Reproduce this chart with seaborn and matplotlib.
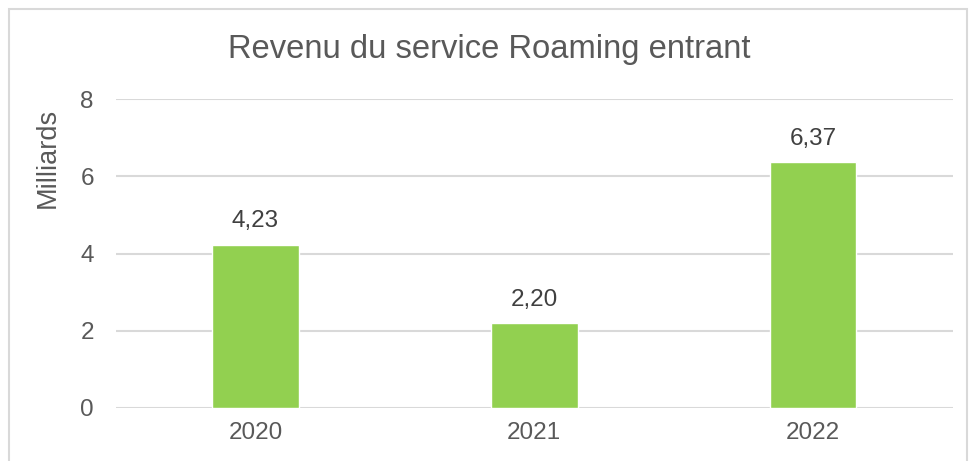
import matplotlib
matplotlib.use("Agg")
import matplotlib.pyplot as plt
import seaborn as sns
import pandas as pd
from matplotlib.patches import Rectangle

years = ["2020", "2021", "2022"]
values = [4.23, 2.20, 6.37]
labels = ["4,23", "2,20", "6,37"]
yticks = [0, 2, 4, 6, 8]

sns.set_theme(style="white")
plt.rcParams['font.family'] = ['Liberation Sans', 'DejaVu Sans']

grey = "#595959"
grid = "#D9D9D9"

fig = plt.figure(figsize=(9.71, 4.61), dpi=100)
ax = fig.add_axes([0.1195, 0.115, 0.8615, 0.67])

df = pd.DataFrame({"year": years, "value": values})
sns.barplot(data=df, x="year", y="value", color="#92D050", saturation=1,
            width=0.31, ax=ax, zorder=3)

ax.set_ylim(0, 8)
ax.set_yticks(yticks)
ax.set_yticklabels([str(t) for t in yticks])
ax.grid(axis="y", color=grid, linewidth=1.5, zorder=0)
ax.set_axisbelow(True)
for s in ax.spines.values():
    s.set_visible(False)
ax.tick_params(axis="both", length=0, labelsize=17.5, colors=grey)
ax.tick_params(axis="y", pad=16)
ax.tick_params(axis="x", pad=10)
ax.set_xlabel("")
ax.set_ylabel("Milliards", fontsize=19.5, color=grey)
ax.yaxis.set_label_coords(-0.0655, 0.81)
ax.set_xlim(-0.5, 2.5)

for i, (v, l) in enumerate(zip(values, labels)):
    ax.annotate(l, (i, v), xytext=(0, 9), textcoords="offset points",
                ha="center", va="bottom", fontsize=17.5, color="#404040")

fig.text(0.504, 0.893, "Revenu du service Roaming entrant", ha="center",
         va="center", fontsize=23.6, color=grey)

fig.patches.append(Rectangle((9/971, -0.1), 958/971, 1.1 - 9/461,
                             transform=fig.transFigure, fill=False,
                             edgecolor=grid, linewidth=1.5))

fig.savefig("out.png", dpi=100)
